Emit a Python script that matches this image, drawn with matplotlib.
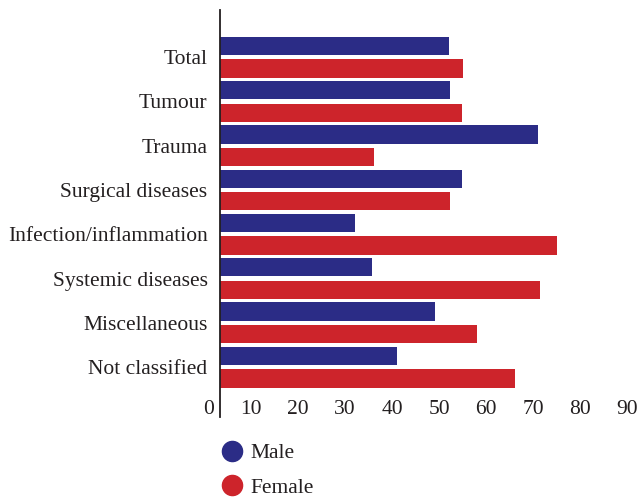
import numpy as np
import matplotlib
matplotlib.use('Agg')
import matplotlib.pyplot as plt
from matplotlib.lines import Line2D

# Data (percent male / female per category)
categories = ['Total', 'Tumour', 'Trauma', 'Surgical diseases', 'Infection/inflammation',
              'Systemic diseases', 'Miscellaneous', 'Not classified']
male = [48.5, 48.8, 67.3, 51.3, 28.7, 32.2, 45.6, 37.5]
female = [51.5, 51.2, 32.7, 48.7, 71.3, 67.8, 54.4, 62.5]
tick_values = [0, 10, 20, 30, 40, 50, 60, 70, 80, 90]

blue = '#2B2C86'
red = '#CD242B'
txt = '#231F20'
plt.rcParams['font.family'] = ['Liberation Serif', 'DejaVu Serif']
fs = 15.5

W, H = 638, 497
fig = plt.figure(figsize=(W / 100, H / 100), dpi=100)
ax = fig.add_axes([220 / W, 1 - 417 / H, 418 / W, 407 / H])

y = np.arange(len(categories))
ax.barh(y - 0.255, male, height=0.415, color=blue)
ax.barh(y + 0.255, female, height=0.415, color=red)

ax.set_xlim(0, 418 / 4.72)
ax.set_ylim(8.126, -1.065)
ax.set_yticks(y)
ax.set_yticklabels(categories, fontsize=fs, color=txt)
ax.tick_params(axis='y', length=0, pad=9)
ax.set_xticks([])

# tick labels sit slightly left of the true scale in the reference
for v in tick_values:
    px = 204 + 4.7 * v if v else 209
    ax.text((px - 220) / 4.72, 7.95, str(v), ha='center', va='center',
            fontsize=fs, color=txt, clip_on=False)

for s in ['top', 'right', 'bottom']:
    ax.spines[s].set_visible(False)
ax.spines['left'].set_color(txt)
ax.spines['left'].set_linewidth(1.3)

handles = [Line2D([], [], marker='o', linestyle='none', markersize=14.5, color=blue),
           Line2D([], [], marker='o', linestyle='none', markersize=14.5, color=red)]
fig.legend(handles, ['Male', 'Female'], loc='upper left', bbox_to_anchor=(221 / W, 1 - 443 / H),
           frameon=False, fontsize=fs, handlelength=1.0, handletextpad=0.35,
           labelspacing=0.68, borderpad=0, borderaxespad=0, labelcolor=txt)

fig.savefig('out.png', dpi=100)
